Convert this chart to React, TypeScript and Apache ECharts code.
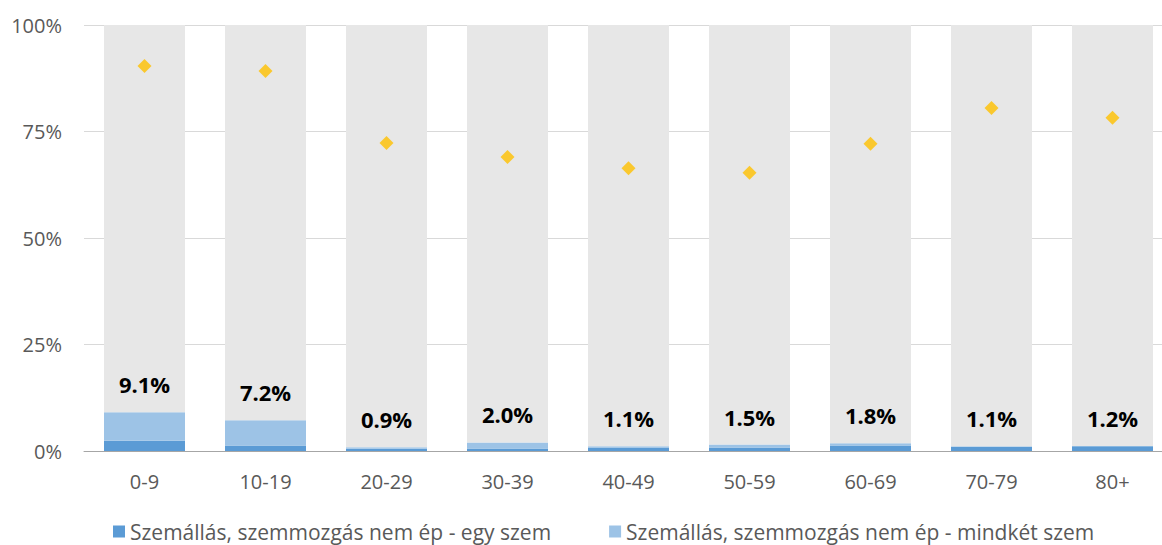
import React, { useEffect, useRef } from "react";
import * as echarts from "echarts";

const categories = ["0-9", "10-19", "20-29", "30-39", "40-49", "50-59", "60-69", "70-79", "80+"];
const egySzem = [2.4, 1.3, 0.5, 0.6, 0.8, 0.8, 1.3, 1.0, 1.1];
const mindketSzem = [6.7, 5.9, 0.4, 1.4, 0.3, 0.7, 0.5, 0.1, 0.1];
const totals = [9.1, 7.2, 0.9, 2.0, 1.1, 1.5, 1.8, 1.1, 1.2];
const diamonds = [90.4, 89.2, 72.3, 69.0, 66.4, 65.3, 72.1, 80.5, 78.2];
const yTicks = [0, 25, 50, 75, 100];

const nameEgy = "Szemállás, szemmozgás nem ép - egy szem";
const nameMind = "Szemállás, szemmozgás nem ép - mindkét szem";

export default function App() {
  const ref = useRef<HTMLDivElement>(null);
  useEffect(() => {
    if (!ref.current) return;
    const chart = echarts.init(ref.current, null, { renderer: "svg" });
    const rest = totals.map((t) => +(100 - t).toFixed(1));
    chart.setOption({
      animation: false,
      textStyle: { fontFamily: "'Open Sans', sans-serif" },
      grid: { left: 84, right: 0, top: 25, bottom: 94, containLabel: false },
      legend: {
        data: [nameEgy, nameMind],
        top: 521,
        left: 108,
        padding: [0, 5, 0, 5],
        itemWidth: 12,
        itemHeight: 12,
        itemGap: 58,
        icon: "rect",
        textStyle: { fontSize: 21, color: "#595959", fontFamily: "'Open Sans', sans-serif" },
      },
      xAxis: {
        type: "category",
        data: categories,
        axisTick: { show: false },
        axisLine: { lineStyle: { color: "#a6a6a6", width: 1 } },
        axisLabel: { color: "#595959", fontSize: 20, margin: 20 },
      },
      yAxis: {
        type: "value",
        min: yTicks[0],
        max: yTicks[yTicks.length - 1],
        interval: 25,
        axisLabel: { color: "#595959", fontSize: 20, margin: 22, formatter: "{value}%" },
        splitLine: { lineStyle: { color: "#d9d9d9" } },
        axisLine: { show: false },
        axisTick: { show: false },
      },
      series: [
        {
          name: nameEgy,
          type: "bar",
          stack: "s",
          barWidth: 81,
          data: egySzem,
          itemStyle: { color: "#5b9bd5" },
        },
        {
          name: nameMind,
          type: "bar",
          stack: "s",
          data: mindketSzem,
          itemStyle: { color: "#9dc3e6" },
          label: {
            show: true,
            position: "top",
            distance: 17,
            fontSize: 22,
            fontWeight: "bold",
            color: "#000",
            fontFamily: "'Open Sans', sans-serif",
            formatter: (p: any) => totals[p.dataIndex].toFixed(1) + "%",
          },
        },
        {
          name: "Többi",
          type: "bar",
          stack: "s",
          data: rest,
          itemStyle: { color: "#e7e7e7" },
        },
        {
          name: "Arány",
          type: "scatter",
          data: diamonds,
          symbol: "diamond",
          symbolSize: 14,
          itemStyle: { color: "#ffc000" },
          z: 5,
        },
      ],
    });
    return () => chart.dispose();
  }, []);
  return (
    <div
      style={{
        position: "absolute",
        left: 0,
        top: 0,
        width: 1162,
        height: 545,
        overflow: "hidden",
        background: "#fff",
      }}
    >
      <div ref={ref} style={{ width: 1173, height: 545 }} />
    </div>
  );
}
